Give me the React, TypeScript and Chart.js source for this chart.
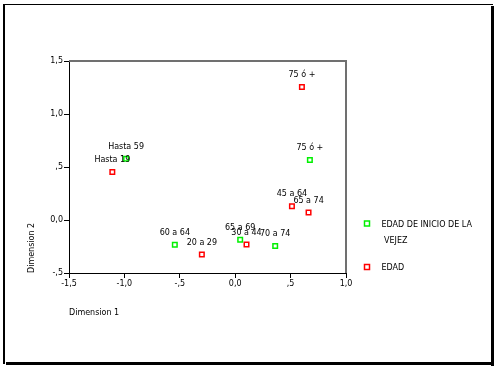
import React, { useEffect, useRef } from "react";
import { Chart, registerables } from "chart.js";

Chart.register(...registerables);

const inicioLabels = ["Hasta 59", "60 a 64", "65 a 69", "70 a 74", "75 ó +"];
const inicioX = [-0.985, -0.545, 0.045, 0.361, 0.674];
const inicioY = [0.578, -0.234, -0.187, -0.246, 0.566];

const edadLabels = ["Hasta 19", "20 a 29", "30 a 44", "45 a 64", "65 a 74", "75 ó +"];
const edadX = [-1.109, -0.301, 0.102, 0.512, 0.662, 0.602];
const edadY = [0.453, -0.325, -0.231, 0.13, 0.07, 1.255];

const xTickLabels = ["-1,5", "-1,0", "-,5", "0,0", ",5", "1,0"];
const yTickLabels = ["-,5", "0,0", ",5", "1,0", "1,5"];

const seriesNames = ["EDAD DE INICIO DE LA VEJEZ", "EDAD"];
const GREEN = "rgb(0,240,0)";
const RED = "rgb(255,0,0)";
const FONT = "DejaVu Sans";

const decorPlugin = {
  id: "decor",
  beforeDraw(chart: any) {
    const ctx = chart.ctx;
    ctx.save();
    ctx.fillStyle = "white";
    ctx.fillRect(0, 0, chart.width, chart.height);
    ctx.restore();
  },
  afterDraw(chart: any) {
    const ctx = chart.ctx;
    const { left, right, top, bottom } = chart.chartArea;
    ctx.save();
    // gray top/right plot borders
    ctx.strokeStyle = "#707070";
    ctx.lineWidth = 2;
    ctx.beginPath();
    ctx.moveTo(left, top);
    ctx.lineTo(right, top);
    ctx.lineTo(right, bottom);
    ctx.stroke();

    // point labels
    ctx.font = `8px '${FONT}'`;
    ctx.fillStyle = "black";
    ctx.textAlign = "center";
    ctx.textBaseline = "middle";
    chart.data.datasets.forEach((ds: any, di: number) => {
      const meta = chart.getDatasetMeta(di);
      meta.data.forEach((pt: any, i: number) => {
        ctx.fillText(ds.pointNames[i], pt.x, pt.y - 12);
      });
    });

    // axis titles
    ctx.textAlign = "left";
    ctx.fillText("Dimension 1", left, 313);
    ctx.save();
    ctx.translate(32, bottom);
    ctx.rotate(-Math.PI / 2);
    ctx.textAlign = "left";
    ctx.fillText("Dimension 2", 0, 0);
    ctx.restore();

    // legend
    const legendItems = [
      { color: GREEN, lines: ["EDAD DE INICIO DE LA", " VEJEZ"], y: 223.5 },
      { color: RED, lines: ["EDAD"], y: 267 },
    ];
    legendItems.forEach((it) => {
      ctx.strokeStyle = it.color;
      ctx.lineWidth = 1.5;
      ctx.strokeRect(364.5, it.y - 2.5, 5, 5);
      ctx.fillStyle = "black";
      ctx.textAlign = "left";
      it.lines.forEach((ln, k) => {
        ctx.fillText(ln, 381.5, it.y + 1 + k * 16);
      });
    });

    // outer frame
    ctx.fillStyle = "black";
    ctx.fillRect(3, 4, 2, 360);
    ctx.fillRect(3, 4, 490, 1);
    ctx.fillRect(491, 6, 3, 360);
    ctx.fillRect(6, 362, 488, 3);
    ctx.restore();
  },
};

export default function App() {
  const ref = useRef<HTMLCanvasElement>(null);
  useEffect(() => {
    if (!ref.current) return;
    const chart = new Chart(ref.current, {
      type: "scatter",
      data: {
        datasets: [
          {
            label: seriesNames[0],
            data: inicioX.map((x, i) => ({ x, y: inicioY[i] })),
            pointNames: inicioLabels,
            pointStyle: "rect",
            pointRadius: 3.2,
            borderColor: GREEN,
            backgroundColor: "rgba(0,0,0,0)",
            borderWidth: 1.5,
          } as any,
          {
            label: seriesNames[1],
            data: edadX.map((x, i) => ({ x, y: edadY[i] })),
            pointNames: edadLabels,
            pointStyle: "rect",
            pointRadius: 3.2,
            borderColor: RED,
            backgroundColor: "rgba(0,0,0,0)",
            borderWidth: 1.5,
          } as any,
        ],
      },
      options: {
        responsive: false,
        animation: false,
        layout: { padding: { left: 0, top: 61, right: 154, bottom: 67 } },
        plugins: { legend: { display: false }, tooltip: { enabled: false } },
        scales: {
          x: {
            type: "linear",
            min: -1.5,
            max: 1.0,
            afterFit: (s: any) => {
              s.height = 30;
            },
            ticks: {
              stepSize: 0.5,
              color: "black",
              font: { family: FONT, size: 8 },
              padding: 1,
              maxRotation: 0,
              autoSkip: false,
              callback: (_v: any, i: number) => xTickLabels[i],
            },
            grid: { drawOnChartArea: false, drawTicks: true, tickLength: 5, color: "black" },
            border: { color: "black", width: 1 },
          },
          y: {
            type: "linear",
            min: -0.5,
            max: 1.5,
            afterFit: (s: any) => {
              s.width = 69;
            },
            ticks: {
              stepSize: 0.5,
              color: "black",
              font: { family: FONT, size: 8 },
              padding: 1,
              autoSkip: false,
              callback: (_v: any, i: number) => yTickLabels[i],
            },
            grid: { drawOnChartArea: false, drawTicks: true, tickLength: 5, color: "black" },
            border: { color: "black", width: 1 },
          },
        },
      },
      plugins: [decorPlugin],
    } as any);
    return () => chart.destroy();
  }, []);
  return (
    <div style={{ position: "absolute", left: 0, top: 0, width: 500, height: 370 }}>
      <canvas ref={ref} width={500} height={370} />
    </div>
  );
}
